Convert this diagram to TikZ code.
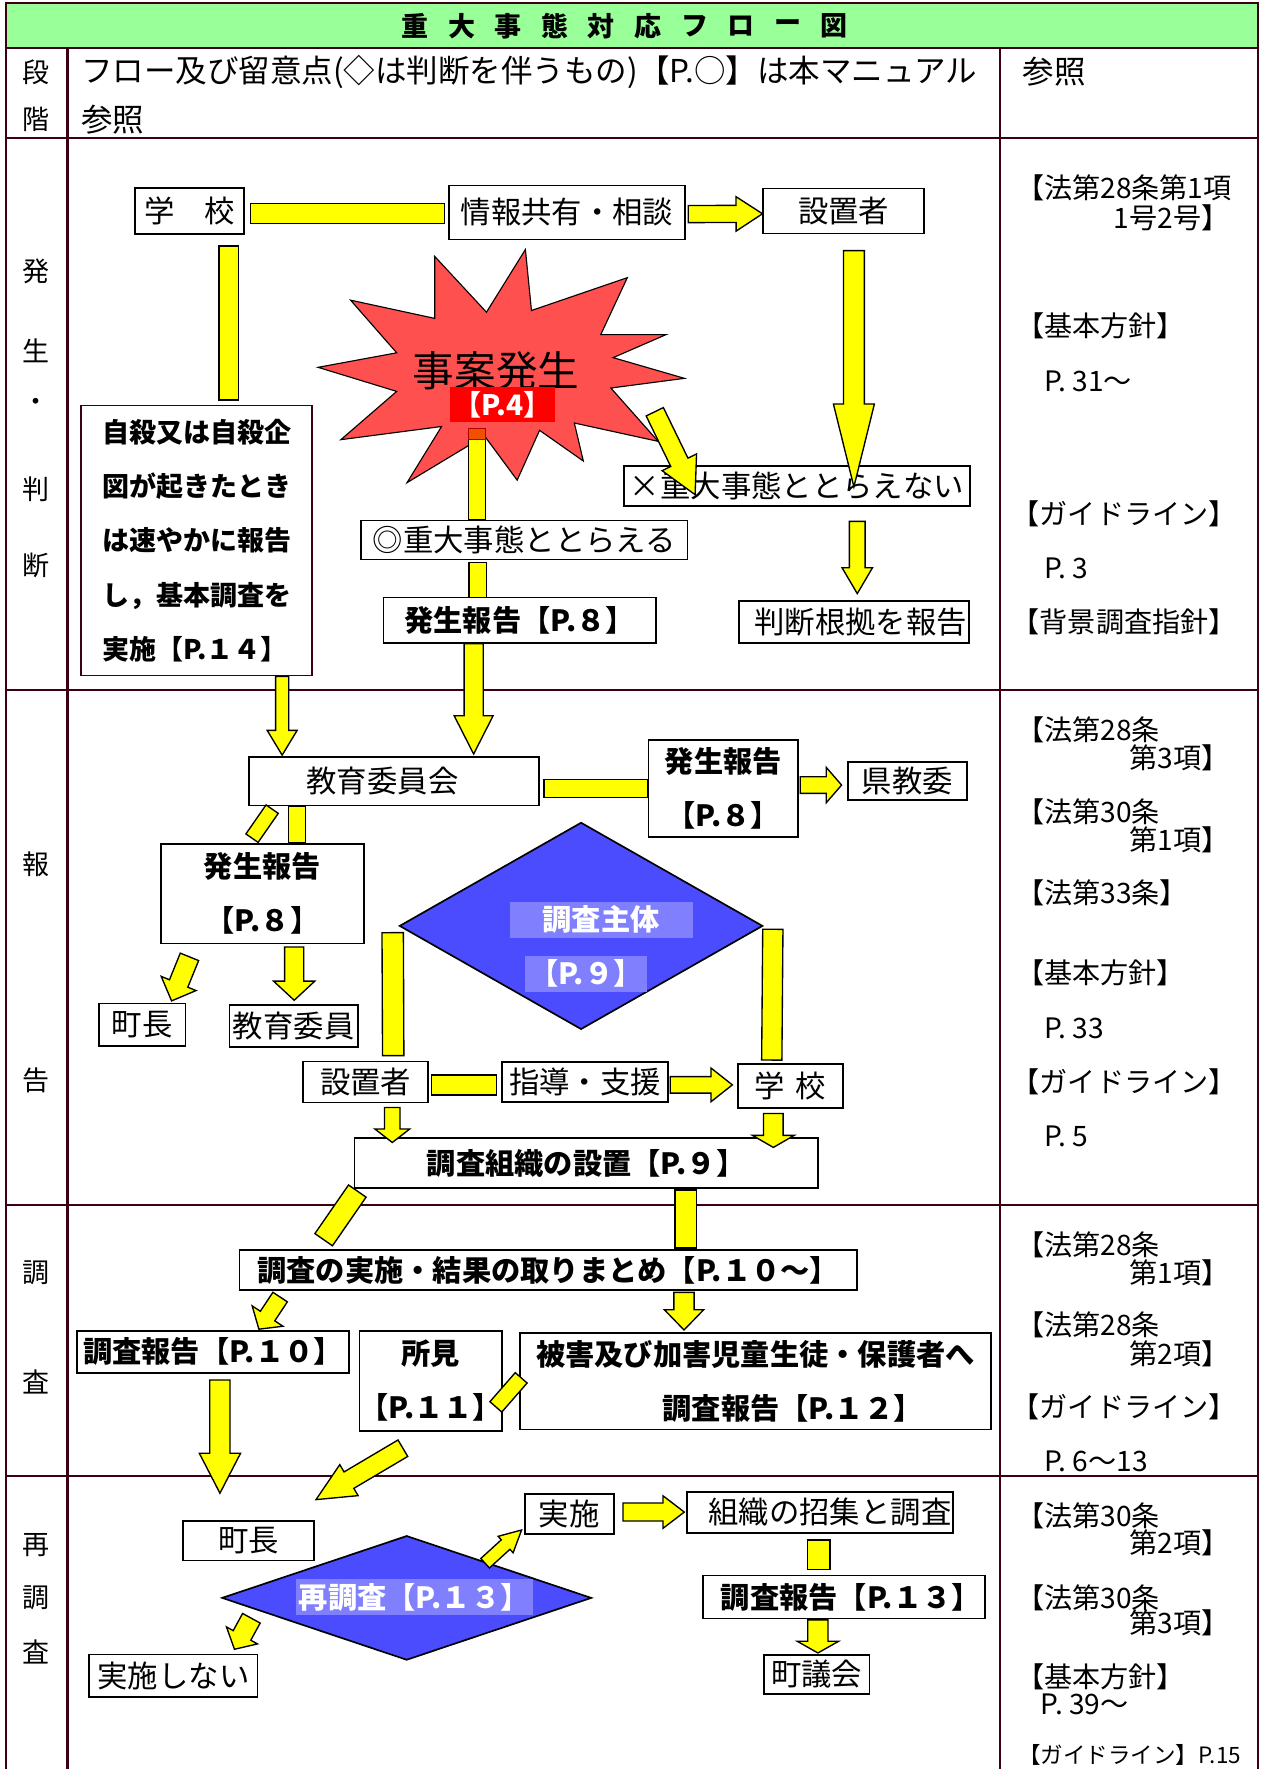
\documentclass[tikz,border=0pt]{standalone}
\usepackage{fontspec}
\setmainfont{Noto Sans CJK JP}
\usetikzlibrary{calc}
\usetikzlibrary{shapes.geometric}

\definecolor{tblline}{RGB}{60,0,20}
\definecolor{titlegreen}{RGB}{153,255,153}
\definecolor{arrowyellow}{RGB}{255,255,0}
\definecolor{starred}{RGB}{255,80,80}
\definecolor{pagered}{RGB}{255,0,0}
\definecolor{dblue}{RGB}{76,76,255}
\definecolor{dlight}{RGB}{128,128,255}
\definecolor{capor}{RGB}{240,80,0}

\tikzset{
  tbl/.style={draw=tblline, line width=1.8pt},
  box/.style={draw, line width=1.5pt, fill=white, inner sep=0pt, font=\fontsize{27}{32}\selectfont},
  bbox/.style={box, align=center, font=\fontsize{26}{48}\selectfont\bfseries},
  yfill/.style={fill=arrowyellow, draw=black, line width=1.2pt, line join=miter},
  dia/.style={diamond, draw, line width=1.5pt, fill=dblue, inner sep=0pt},
  dtext/.style={fill=dlight, inner sep=0pt, text=white, font=\fontsize{26}{30}\selectfont\bfseries},
  stage/.style={inner sep=0pt, font=\fontsize{24}{26}\selectfont},
  refw/.style={anchor=west, inner sep=0pt, font=\fontsize{25}{27}\selectfont},
  refe/.style={anchor=east, inner sep=0pt, font=\fontsize{25}{27}\selectfont},
}

% block arrow: tail, tip, shaft half width, head half width, head length
\newcommand{\yarrow}[5]{%
  \coordinate (ah) at ($(#2)!#5!(#1)$);
  \filldraw[yfill] ($(#1)!#3!90:(#2)$) -- ($(ah)!#3!-90:(#1)$) -- ($(ah)!#4!-90:(#1)$)
    -- (#2) -- ($(ah)!#4!90:(#1)$) -- ($(ah)!#3!90:(#1)$) -- ($(#1)!#3!-90:(#2)$) -- cycle;
}
% plain bar
\newcommand{\ybar}[3]{%
  \filldraw[yfill] ($(#1)!#3!90:(#2)$) -- ($(#2)!#3!-90:(#1)$)
    -- ($(#2)!#3!90:(#1)$) -- ($(#1)!#3!-90:(#2)$) -- cycle;
}

\begin{document}
\begin{tikzpicture}[x=1pt, y=-1pt]
\useasboundingbox (0,0) rectangle (1120,1572.4);
\fill[titlegreen] (5,3) rectangle (1118,43);
\draw[tbl] (5,1572.4) -- (5,3) -- (1118,3) -- (1118,1572.4);
\foreach \y in {43,122.5,613,1071,1312} \draw[tbl] (5,\y) -- (1118,\y);
\foreach \x in {60,889} \draw[tbl] (\x,43) -- (\x,1572.4);

\foreach \c [count=\i] in {重,大,事,態,対,応,フ,ロ,ー,図}
  \node[inner sep=0pt, font=\fontsize{24}{26}\selectfont\bfseries] (ttl\i) at ({369+41.4*(\i-1)},23) {\c};

\node[stage] (dan) at (32,64) {段};
\node[stage] (kai) at (32,106) {階};
\node[refw, font=\fontsize{28}{30}\selectfont] (flowhd) at (72,64) {フロー及び留意点(◇は判断を伴うもの)【P.○】は本マニュアル};
\node[refw, font=\fontsize{28}{30}\selectfont] (flowhd2) at (72,106) {参照};
\node[refw, font=\fontsize{28}{30}\selectfont] (refhd) at (909,64) {参照};

\foreach \t/\y [count=\i] in {発/241,生/312,・/360,判/435,断/503,報/768,告/960,調/1131,査/1228,再/1373,調/1420,査/1468}
  \node[stage] (stg\i) at (32,\y) {\t};

\foreach \t/\x/\y [count=\i] in {【法第28条第1項/903/167,【基本方針】/903/289.8,P. 31～/928/338.7,【ガイドライン】/899/456.5,P. 3/928/505.5,【背景調査指針】/899/553,
  【法第28条/903/649,【法第30条/903/721.5,【法第33条】/903/794,【基本方針】/903/865,P. 33/928/914,【ガイドライン】/899/961.5,P. 5/928/1010,
  【法第28条/903/1106.8,【法第28条/903/1177.8,【ガイドライン】/899/1250.5,P. 6～13/928/1298.7,
  【法第30条/903/1347.3,【法第30条/903/1419.8,【基本方針】/903/1490.7,P. 39～/925/1514.7}
  \node[refw] (refL\i) at (\x,\y) {\t};
\node[refw, font=\fontsize{20}{22}\selectfont] (refLast) at (905,1560) {【ガイドライン】P.15};
\foreach \t/\y [count=\i] in {1号2号】/193.3,第3項】/674,第1項】/746.7,第1項】/1131.2,第2項】/1203.6,第2項】/1371.5,第3項】/1442.4}
  \node[refe] (refR\i) at (1093,\y) {\t};

\filldraw[fill=starred, draw=black, line width=1pt, line join=miter] (467,221.8) -- (472.4,276) -- (557.6,246.8) -- (534,297.4)
  -- (592.1,297.4) -- (545,317.9) -- (608.4,336.3) -- (543,344.9) -- (585,392.3) -- (510.5,376) -- (518.5,409.8)
  -- (479.6,382.5) -- (459.7,426.8) -- (430.7,387.5) -- (361.8,429) -- (392.5,379.1) -- (303,390.8) -- (352.6,347.9)
  -- (282.7,326.5) -- (352.6,313.6) -- (311.6,266.8) -- (386.4,283) -- (386.4,227.9) -- (432.4,277.5) -- cycle;

\node[box, minimum width=97pt, minimum height=41pt] (gakko1) at (168.5,187.5) {学　校};
\node[box, minimum width=210pt, minimum height=48pt] (joho) at (504,188.8) {情報共有・相談};
\node[box, minimum width=143pt, minimum height=40pt] (setti1) at (750,187.5) {設置者};
\node[inner sep=0pt, font=\fontsize{37}{40}\selectfont] (jiko) at (441,329.5) {事案発生};
\node[fill=pagered, text=white, inner sep=0pt, minimum width=93pt, minimum height=31.5pt, font=\fontsize{25}{27}\selectfont\bfseries] (p4) at (446.4,359.7) {【P.4】};
\node[box, minimum width=290pt, minimum height=34.6pt] (judai) at (466,480) {◎重大事態ととらえる};
\node[bbox, minimum width=242pt, minimum height=40.4pt] (hassei1) at (462,551.2) {発生報告【P.８】};
\node[bbox, draw=tblline, minimum width=205pt, minimum height=240pt, align=left, font=\fontsize{24}{48.3}\selectfont\bfseries] (jisatsu) at (174.7,480.5)
  {自殺又は自殺企\\図が起きたとき\\は速やかに報告\\し，基本調査を\\実施【P.１４】};
\node[box, minimum width=307pt, minimum height=35pt] (hijudai) at (708.4,432) {×重大事態ととらえない};
\node[box, minimum width=204.5pt, minimum height=37.4pt] (konkyo) at (759,552.7) {\hspace*{12pt}判断根拠を報告};

\node[box, minimum width=257.6pt, minimum height=42.7pt] (kyoiku) at (350,694.5) {教育委員会\hspace*{20pt}};
\node[bbox, minimum width=133pt, minimum height=86pt] (hassei2) at (643,700.7) {発生報告\\【P.８】};
\node[box, minimum width=106pt, minimum height=34pt] (ken) at (806.5,694) {県教委};
\node[bbox, minimum width=180.6pt, minimum height=88.3pt] (hassei3) at (233.3,794.4) {発生報告\\【P.８】};
\node[box, minimum width=77pt, minimum height=38pt] (chocho1) at (126.4,911) {町長};
\node[box, minimum width=114pt, minimum height=37.7pt] (iin) at (261,912) {教育委員};
\node[dia, minimum width=323pt, minimum height=184pt] (chosa) at (516.5,823) {};
\node[dtext, minimum width=162.6pt, minimum height=31.7pt] (chosaA) at (534.3,817.6) {調査主体};
\node[dtext, minimum width=108pt, minimum height=31.7pt] (chosaB) at (520.8,865.6) {【P.９】};
\node[box, minimum width=111pt, minimum height=36.3pt] (setti2) at (325,961.8) {設置者};
\node[box, minimum width=148pt, minimum height=35.6pt] (shido) at (520,961.5) {指導・支援};
\node[box, minimum width=93pt, minimum height=38.8pt] (gakko2) at (702.5,965.2) {学\hspace{10pt}校};
\node[bbox, minimum width=412pt, minimum height=44.5pt] (soshiki) at (521,1034) {調査組織の設置【P.９】};

\node[bbox, minimum width=548.6pt, minimum height=35.7pt] (jisshi) at (487.3,1128.8) {調査の実施・結果の取りまとめ【P.１０～】};
\node[bbox, minimum width=241.4pt, minimum height=37.6pt] (hokoku1) at (189.3,1201.6) {調査報告【P.１０】};
\node[bbox, minimum width=123pt, minimum height=89pt] (shoken) at (382.9,1227.3) {所見\\【P.１１】};
\node[bbox, minimum width=418.4pt, minimum height=85.6pt] (higai) at (671.5,1227.7) {被害及び加害児童生徒・保護者へ\\\hspace*{66pt}調査報告【P.１２】};

\node[box, minimum width=116.3pt, minimum height=35pt] (chocho2) at (220.9,1369.5) {町長};
\node[dia, minimum width=328.6pt, minimum height=110.6pt] (saichosa) at (361.5,1420.3) {};
\node[dtext, minimum width=210.4pt, minimum height=31.7pt] (saichosaT) at (368.2,1419.5) {再調査【P.１３】};
\node[box, minimum width=79.3pt, minimum height=35.4pt] (jisshiB) at (506,1345.7) {実施};
\node[box, minimum width=236.6pt, minimum height=36.4pt] (shushu) at (728.7,1344.2) {\hspace*{18pt}組織の招集と調査};
\node[bbox, minimum width=250.6pt, minimum height=38pt] (hokoku2) at (750.3,1419.5) {\hspace*{12pt}調査報告【P.１３】};
\node[box, minimum width=93.8pt, minimum height=35.2pt] (gikai) at (726,1488.4) {町議会};
\node[box, minimum width=149.6pt, minimum height=37.8pt] (shinai) at (154.2,1489.6) {実施しない};

\coordinate (a1) at ($(gakko1.east)+(5,2.5)$);
\coordinate (b1) at ($(joho.west)+(-3,1.2)$);
\ybar{a1}{b1}{8.9pt}
\coordinate (a2) at ($(joho.east)+(2,1.5)$);
\coordinate (b2) at ($(setti1.west)+(0,2.5)$);
\yarrow{a2}{b2}{7.6pt}{15.3pt}{23.5pt}
\coordinate (a3) at ($(gakko1.south)+(34.8,9.8)$);
\coordinate (b3) at ($(jisatsu.north)+(28.6,-4.3)$);
\ybar{a3}{b3}{8.6pt}
\coordinate (a4) at ($(setti1.south)+(9,14.5)$);
\coordinate (b4) at ($(hijudai.north)+(50.6,19)$);
\yarrow{a4}{b4}{9.3pt}{18.2pt}{73.6pt}
\coordinate (a5) at ($(jiko)+(141,36.5)$);
\coordinate (b5) at ($(hijudai.west)+(63.7,7.7)$);
\yarrow{a5}{b5}{8.5pt}{17pt}{32pt}
\coordinate (a6) at ($(p4.south)+(-22.4,15.2)$);
\coordinate (b6) at ($(judai.north)+(-42,0)$);
\ybar{a6}{b6}{7.8pt}
\filldraw[fill=capor, draw=red!70!black, line width=0.8pt] ($(a6)+(-7.8,-9.7)$) rectangle ($(a6)+(7.8,0)$);
\coordinate (a7) at ($(judai.south)+(-41.2,1.7)$);
\coordinate (b7) at ($(hassei1.north)+(-37.2,1)$);
\ybar{a7}{b7}{7.8pt}
\coordinate (a8) at ($(hijudai.south)+(53.6,13.2)$);
\coordinate (b8) at ($(konkyo.north)+(3,-5.6)$);
\yarrow{a8}{b8}{7pt}{13.5pt}{23pt}
\coordinate (a9) at ($(jisatsu.south)+(76.1,0)$);
\coordinate (b9) at ($(kyoiku.north)+(-99.2,-1.2)$);
\yarrow{a9}{b9}{5.8pt}{13.3pt}{22pt}
\coordinate (a10) at ($(hassei1.south)+(-41,0)$);
\coordinate (b10) at ($(kyoiku.north)+(71,-2.2)$);
\yarrow{a10}{b10}{8.5pt}{17.3pt}{34pt}

\coordinate (a11) at ($(kyoiku.east)+(3.9,6.2)$);
\coordinate (b11) at (hassei2.west);
\ybar{a11}{b11}{8pt}
\coordinate (a12) at ($(hassei2.east)+(1,-2.9)$);
\coordinate (b12) at ($(ken.west)+(-4.7,3.8)$);
\yarrow{a12}{b12}{7.4pt}{15.7pt}{13.6pt}
\coordinate (a13) at ($(kyoiku.south)+(-108.1,2.6)$);
\coordinate (b13) at ($(hassei3.north)+(-9.3,-4.5)$);
\ybar{a13}{b13}{6.6pt}
\coordinate (a14) at ($(kyoiku.south)+(-86,0.1)$);
\coordinate (b14) at ($(hassei3.north)+(30.7,-0.6)$);
\ybar{a14}{b14}{7.5pt}
\coordinate (a15) at ($(hassei3.south)+(-64.9,11.2)$);
\coordinate (b15) at ($(chocho1.north)+(26.1,-1.6)$);
\yarrow{a15}{b15}{8.8pt}{16.7pt}{16.7pt}
\coordinate (a16) at ($(hassei3.south)+(28.2,2.5)$);
\coordinate (b16) at ($(iin.north)+(0.5,-3.3)$);
\yarrow{a16}{b16}{8.5pt}{18.3pt}{17pt}
\coordinate (a17) at ($(chosa.west)+(-5.2,6)$);
\coordinate (b17) at ($(setti2.north)+(24.5,-4.6)$);
\ybar{a17}{b17}{9.5pt}
\coordinate (a18) at ($(chosa.east)+(8.2,3)$);
\coordinate (b18) at ($(gakko2.north)+(-16.5,-2.8)$);
\ybar{a18}{b18}{9pt}
\coordinate (a19) at ($(setti2.east)+(2.2,2.7)$);
\coordinate (b19) at ($(shido.west)+(-4,3)$);
\ybar{a19}{b19}{8.9pt}
\coordinate (a20) at ($(shido.east)+(1,2.8)$);
\coordinate (b20) at ($(gakko2.west)+(-4.3,-0.9)$);
\yarrow{a20}{b20}{7.3pt}{15pt}{19pt}
\coordinate (a21) at ($(setti2.south)+(23.7,3.7)$);
\coordinate (b21) at ($(soshiki.north)+(-172.3,4.5)$);
\yarrow{a21}{b21}{6.9pt}{15.5pt}{12pt}
\coordinate (a22) at ($(gakko2.south)+(-15.1,4.4)$);
\coordinate (b22) at ($(soshiki.north)+(166.4,8.9)$);
\yarrow{a22}{b22}{8.7pt}{18.5pt}{10.7pt}

\coordinate (a23) at ($(soshiki.south)+(-203.4,1.7)$);
\coordinate (b23) at ($(jisshi.north)+(-199.6,-8.3)$);
\ybar{a23}{b23}{9.5pt}
\coordinate (a24) at ($(soshiki.south)+(88.5,0.7)$);
\coordinate (b24) at ($(jisshi.north)+(122.2,-1)$);
\ybar{a24}{b24}{9.5pt}
\coordinate (a25) at ($(jisshi.south)+(-238.3,5.5)$);
\coordinate (b25) at ($(hokoku1.north)+(40.8,-0.6)$);
\yarrow{a25}{b25}{7.7pt}{16.4pt}{14pt}
\coordinate (a26) at ($(jisshi.south)+(120.7,1.3)$);
\coordinate (b26) at ($(higai.north)+(-63.5,-2)$);
\yarrow{a26}{b26}{9pt}{17.5pt}{18pt}
\coordinate (a27) at ($(shoken.east)+(-6.4,23.2)$);
\coordinate (b27) at ($(higai.west)+(1.7,-3)$);
\ybar{a27}{b27}{7pt}
\coordinate (a28) at ($(hokoku1.south)+(6.2,5.5)$);
\coordinate (b28) at ($(chocho2.north)+(-25.4,-24)$);
\yarrow{a28}{b28}{9pt}{18.3pt}{35.5pt}
\coordinate (a29) at ($(shoken.south)+(-24.8,14.7)$);
\coordinate (b29) at ($(chocho2.north)+(60,-18.3)$);
\yarrow{a29}{b29}{8.5pt}{16pt}{34pt}

\coordinate (a30) at ($(saichosa.center)+(69.7,-30.8)$);
\coordinate (b30) at ($(jisshiB.south west)+(-2,-4.2)$);
\yarrow{a30}{b30}{5.7pt}{9.9pt}{19.2pt}
\coordinate (a31) at ($(jisshiB.east)+(7.4,-1.7)$);
\coordinate (b31) at ($(shushu.west)+(-1.4,-0.2)$);
\yarrow{a31}{b31}{8pt}{14.5pt}{19pt}
\coordinate (a32) at ($(shushu.south)+(-0.9,5.6)$);
\coordinate (b32) at ($(hokoku2.north)+(-22.5,-4.5)$);
\ybar{a32}{b32}{9.8pt}
\coordinate (a33) at ($(hokoku2.south)+(-23.3,0.6)$);
\coordinate (b33) at ($(gikai.north)+(1,-0.8)$);
\yarrow{a33}{b33}{9pt}{18.4pt}{10.4pt}
\coordinate (a34) at ($(saichosa.west)+(27,18.1)$);
\coordinate (b34) at ($(shinai.north)+(54.2,-4)$);
\yarrow{a34}{b34}{8.9pt}{15.7pt}{14pt}
\end{tikzpicture}
\end{document}
